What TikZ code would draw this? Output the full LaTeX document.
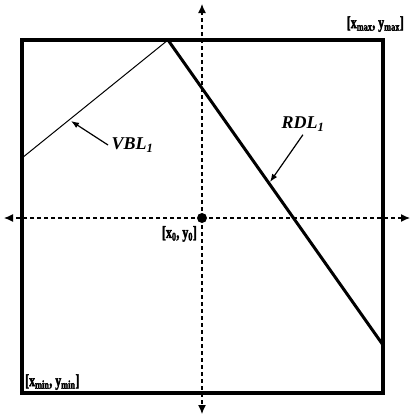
\documentclass[tikz,border=0pt]{standalone}
\usepackage{fontspec}
\setmainfont{Liberation Serif}
\newfontfamily\heavyfont[FakeBold=2.5]{Liberation Serif}
\usetikzlibrary{arrows.meta}
\begin{document}
\begin{tikzpicture}[x=1pt,y=-1pt,
  axis/.style={line width=1.2pt, -{Latex[length=9pt,width=8pt]}, dash pattern=on 4pt off 3pt},
  border/.style={line width=3.5pt},
  lbl/.style={font=\fontsize{18}{21}\selectfont\bfseries\itshape},
  corner/.style={font=\heavyfont\fontsize{17}{19}\selectfont\bfseries, inner sep=0pt},
  pointer/.style={line width=1.2pt, -{Latex[length=8pt,width=6pt]}}]
\useasboundingbox (0,0) rectangle (416,418);
\coordinate (o) at (202,218);
\coordinate (top) at (202,4);
\coordinate (bot) at (202,414);
\coordinate (lft) at (4,218);
\coordinate (rgt) at (410,218);
\draw[axis] (o) -- (top);
\draw[axis] (o) -- (bot);
\draw[axis] (o) -- (lft);
\draw[axis] (o) -- (rgt);
\draw[border] (22,40) rectangle (383,393);
\coordinate (v1) at (22,158);
\coordinate (apex) at (168,40);
\coordinate (r2) at (383,345);
\draw[line width=1pt] (v1) -- (apex);
\draw[line width=3pt] (apex) -- (r2);
\fill (o) circle (5pt);
\node[lbl, anchor=west] (vbl) at (108,145) {VBL\textsubscript{\itshape 1}};
\node[lbl, anchor=west] (rdl) at (278,124) {RDL\textsubscript{\itshape 1}};
\coordinate (vtip) at (71,121);
\coordinate (rtip) at (270,182);
\draw[pointer] (vbl.west) -- (vtip);
\draw[pointer] (rdl.south) -- (rtip);
\node[corner, anchor=south east] (mx) at (404,32) {\scalebox{0.7}[1]{[x\textsubscript{max}, y\textsubscript{max}]}};
\node[corner, anchor=south west] (mn) at (25,390) {\scalebox{0.7}[1]{[x\textsubscript{min}, y\textsubscript{min}]}};
\node[corner, anchor=north east] (ol) at (197,226) {\scalebox{0.7}[1]{[x\textsubscript{0}, y\textsubscript{0}]}};
\end{tikzpicture}
\end{document}
